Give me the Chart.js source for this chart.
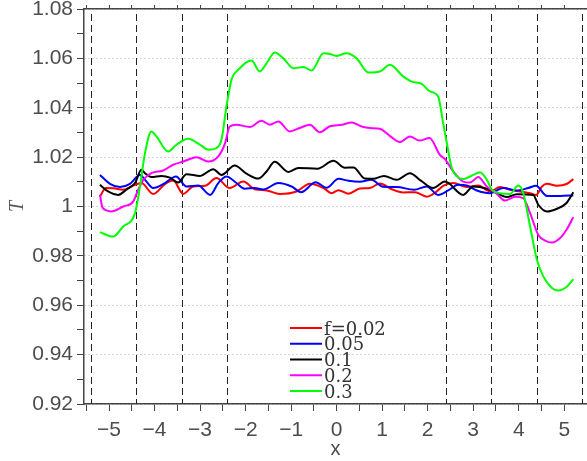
<!DOCTYPE html>
<html>
<head>
<meta charset="utf-8">
<script src="https://cdn.jsdelivr.net/npm/chart.js@4.4.1/dist/chart.umd.min.js"></script>
<style>
  html, body { margin: 0; padding: 0; background: #fff; }
  #wrap { width: 587px; height: 461px; position: relative; }
</style>
</head>
<body>
<div id="wrap"><canvas id="chart"></canvas></div>
<script>
const seriesLabels = ['f=0.02', '0.05', '0.1', '0.2', '0.3'];
const seriesColors = ['#ff0000', '#0000ff', '#000000', '#ff00ff', '#00ff00'];

// f = 0.02
const redX = [-5.2, -5.07, -4.9, -4.69, -4.47, -4.29, -4.03, -3.77, -3.59, -3.37, -3.15, -2.89, -2.64, -2.35, -2.05, -1.8, -1.54, -1.25, -0.88, -0.59, -0.29, -0.11, 0.04, 0.26, 0.51, 0.73, 0.95, 1.21, 1.46, 1.72, 1.98, 2.2, 2.34, 2.56, 2.86, 3.11, 3.37, 3.59, 3.81, 4.03, 4.25, 4.38, 4.51, 4.62, 4.84, 5.05, 5.2];
const redT = [1.0040, 1.0075, 1.0074, 1.0068, 1.0085, 1.0095, 1.0051, 1.0091, 1.0105, 1.0051, 1.0081, 1.0084, 1.0115, 1.0075, 1.0101, 1.0070, 1.0065, 1.0051, 1.0061, 1.0092, 1.0075, 1.0054, 1.0066, 1.0052, 1.0073, 1.0075, 1.0093, 1.0070, 1.0057, 1.0058, 1.0040, 1.0061, 1.0084, 1.0095, 1.0079, 1.0085, 1.0061, 1.0079, 1.0068, 1.0061, 1.0054, 1.0047, 1.0081, 1.0092, 1.0084, 1.0091, 1.0111];

// f = 0.05
const blueX = [-5.2, -4.98, -4.76, -4.54, -4.32, -4.21, -4.03, -3.77, -3.53, -3.3, -3.04, -2.78, -2.6, -2.42, -2.2, -2.02, -1.8, -1.61, -1.28, -0.99, -0.78, -0.46, -0.22, 0.04, 0.26, 0.51, 0.76, 1.02, 1.32, 1.7, 1.98, 2.23, 2.45, 2.67, 2.86, 3.08, 3.37, 3.66, 3.96, 4.21, 4.38, 4.62, 4.91, 5.2];
const blueT = [1.0128, 1.0092, 1.0079, 1.0092, 1.0128, 1.0108, 1.0075, 1.0095, 1.0122, 1.0081, 1.0085, 1.0047, 1.0095, 1.0122, 1.0095, 1.0072, 1.0075, 1.0069, 1.0095, 1.0081, 1.0058, 1.0098, 1.0076, 1.0112, 1.0104, 1.0100, 1.0108, 1.0080, 1.0079, 1.0068, 1.0081, 1.0047, 1.0065, 1.0088, 1.0085, 1.0065, 1.0054, 1.0075, 1.0065, 1.0075, 1.0084, 1.0043, 1.0043, 1.0045];

// f = 0.1
const blackX = [-5.2, -5.02, -4.8, -4.62, -4.43, -4.29, -4.21, -4.07, -3.85, -3.66, -3.48, -3.3, -3.0, -2.71, -2.53, -2.24, -1.98, -1.72, -1.54, -1.36, -1.06, -0.84, -0.42, -0.07, 0.18, 0.37, 0.62, 0.8, 1.04, 1.32, 1.61, 1.85, 2.12, 2.38, 2.78, 3.0, 3.3, 3.52, 3.74, 3.96, 4.32, 4.43, 4.62, 4.84, 5.05, 5.2];
const blackT = [1.0088, 1.0061, 1.0047, 1.0068, 1.0095, 1.0149, 1.0135, 1.0119, 1.0124, 1.0117, 1.0097, 1.0131, 1.0124, 1.0151, 1.0128, 1.0166, 1.0133, 1.0113, 1.0142, 1.0181, 1.0140, 1.0156, 1.0153, 1.0185, 1.0157, 1.0158, 1.0113, 1.0112, 1.0124, 1.0108, 1.0135, 1.0105, 1.0075, 1.0101, 1.0047, 1.0081, 1.0072, 1.0054, 1.0038, 1.0050, 1.0047, 1.0007, 0.9980, 0.9991, 1.0014, 1.0058];

// f = 0.2
const magentaX = [-5.2, -5.14, -4.95, -4.69, -4.47, -4.36, -4.25, -4.07, -3.81, -3.59, -3.37, -3.08, -2.82, -2.6, -2.45, -2.35, -2.2, -1.91, -1.65, -1.47, -1.28, -1.03, -0.81, -0.59, -0.37, -0.15, 0.11, 0.33, 0.55, 0.73, 0.95, 1.17, 1.39, 1.61, 1.82, 2.04, 2.27, 2.38, 2.56, 2.78, 2.93, 3.11, 3.3, 3.52, 3.7, 3.92, 4.1, 4.25, 4.43, 4.58, 4.73, 4.91, 5.05, 5.2];
const magentaT = [1.0047, 0.9994, 0.9980, 1.0000, 1.0020, 1.0068, 1.0108, 1.0135, 1.0146, 1.0169, 1.0182, 1.0200, 1.0182, 1.0203, 1.0257, 1.0324, 1.0331, 1.0322, 1.0347, 1.0331, 1.0344, 1.0304, 1.0318, 1.0331, 1.0301, 1.0325, 1.0331, 1.0340, 1.0324, 1.0318, 1.0315, 1.0286, 1.0261, 1.0284, 1.0267, 1.0277, 1.0209, 1.0192, 1.0142, 1.0101, 1.0097, 1.0119, 1.0081, 1.0051, 1.0024, 1.0040, 1.0034, 0.9973, 0.9885, 0.9862, 0.9854, 0.9872, 0.9906, 0.9957];

// f = 0.3
const greenX = [-5.2, -4.91, -4.69, -4.43, -4.32, -4.21, -4.07, -3.96, -3.7, -3.52, -3.26, -3.0, -2.82, -2.64, -2.53, -2.42, -2.31, -2.16, -1.87, -1.69, -1.54, -1.36, -1.17, -0.95, -0.73, -0.55, -0.29, -0.15, 0.0, 0.22, 0.44, 0.7, 0.95, 1.17, 1.46, 1.65, 1.87, 2.05, 2.23, 2.34, 2.42, 2.53, 2.64, 2.78, 3.0, 3.15, 3.3, 3.41, 3.59, 3.81, 3.99, 4.1, 4.25, 4.4, 4.54, 4.73, 4.87, 5.05, 5.2];
const greenT = [0.9896, 0.9878, 0.9919, 0.9973, 1.0081, 1.0216, 1.0304, 1.0284, 1.0223, 1.0250, 1.0274, 1.0250, 1.0230, 1.0237, 1.0270, 1.0405, 1.0513, 1.0554, 1.0591, 1.0547, 1.0580, 1.0624, 1.0600, 1.0560, 1.0565, 1.0551, 1.0621, 1.0618, 1.0610, 1.0621, 1.0600, 1.0543, 1.0547, 1.0574, 1.0527, 1.0506, 1.0497, 1.0466, 1.0446, 1.0338, 1.0257, 1.0156, 1.0122, 1.0111, 1.0128, 1.0139, 1.0108, 1.0068, 1.0054, 1.0051, 1.0085, 1.0054, 0.9919, 0.9784, 0.9717, 0.9670, 0.9660, 0.9674, 0.9706];

const dashedX = [-5.4, -4.4, -3.4, -2.4, 2.4, 3.4, 4.4, 5.4];
const xTickValues = [-5.5, -5, -4.5, -4, -3.5, -3, -2.5, -2, -1.5, -1, -0.5, 0, 0.5, 1, 1.5, 2, 2.5, 3, 3.5, 4, 4.5, 5, 5.5];

const xs = [redX, blueX, blackX, magentaX, greenX];
const ts = [redT, blueT, blackT, magentaT, greenT];

const axisColor = '#444';
const labelColor = '#4d4d4d';
const tickFont = { family: 'Liberation Sans', size: 21 };

const verticalLines = {
  id: 'verticalLines',
  beforeDatasetsDraw(chart) {
    const { ctx, chartArea, scales } = chart;
    ctx.save();
    ctx.strokeStyle = '#222';
    ctx.lineWidth = 1;
    ctx.setLineDash([7, 4]);
    dashedX.forEach(v => {
      const px = Math.round(scales.x.getPixelForValue(v)) + 0.5;
      ctx.beginPath();
      ctx.moveTo(px, chartArea.top + 5);
      ctx.lineTo(px, chartArea.bottom);
      ctx.stroke();
    });
    ctx.restore();
  }
};

const legendLines = {
  id: 'legendLines',
  afterDatasetsDraw(chart) {
    const { ctx } = chart;
    ctx.save();
    ctx.font = '18px "DejaVu Serif"';
    ctx.fillStyle = '#333';
    ctx.textBaseline = 'alphabetic';
    ctx.lineWidth = 2;
    seriesLabels.forEach((label, i) => {
      const y = 328 + i * 15.75;
      ctx.strokeStyle = seriesColors[i];
      ctx.beginPath();
      ctx.moveTo(290, y);
      ctx.lineTo(322, y);
      ctx.stroke();
      ctx.fillText(label, 324, y + 6.5);
    });
    ctx.restore();
  }
};

const isMajorY = v => Math.round(v * 100) % 2 === 0;

new Chart(document.getElementById('chart'), {
  type: 'line',
  data: {
    datasets: seriesLabels.map((label, i) => ({
      label: label,
      data: xs[i].map((x, j) => ({ x: x, y: ts[i][j] })),
      borderColor: seriesColors[i],
      borderWidth: 2,
      pointRadius: 0,
      fill: false,
      cubicInterpolationMode: 'monotone',
      order: seriesLabels.length - 1 - i
    }))
  },
  options: {
    responsive: true,
    maintainAspectRatio: false,
    animation: false,
    layout: { padding: 0 },
    plugins: {
      legend: { display: false },
      tooltip: { enabled: false }
    },
    scales: {
      x: {
        type: 'linear',
        position: 'bottom',
        min: -5.55,
        max: 5.5,
        bounds: 'data',
        afterBuildTicks: s => { s.ticks = xTickValues.map(v => ({ value: v })); },
        grid: { drawOnChartArea: false, tickLength: 7, tickColor: axisColor, tickWidth: 1 },
        border: { color: axisColor, width: 1.5 },
        ticks: {
          autoSkip: false,
          maxRotation: 0,
          padding: 7,
          font: tickFont,
          color: labelColor,
          callback: v => Number.isInteger(v) ? (v < 0 ? '\u2212' + Math.abs(v) : String(v)) : ''
        },
        title: { display: true, text: 'x', font: { family: 'Liberation Sans', size: 20 }, color: labelColor, padding: { top: 0, bottom: 0 } },
        afterFit: s => { s.height = 57; s.paddingLeft = 0; s.paddingRight = 0; }
      },
      xTop: {
        type: 'linear',
        position: 'top',
        min: -5.55,
        max: 5.5,
        bounds: 'data',
        afterBuildTicks: s => { s.ticks = xTickValues.map(v => ({ value: v })); },
        grid: { drawOnChartArea: false, tickLength: 4, tickColor: axisColor, tickWidth: 1 },
        border: { color: axisColor, width: 1.5 },
        ticks: { display: false, autoSkip: false },
        afterFit: s => { s.height = 9; s.paddingLeft = 0; s.paddingRight = 0; }
      },
      y: {
        type: 'linear',
        min: 0.92,
        max: 1.08,
        ticks: {
          stepSize: 0.01,
          autoSkip: false,
          padding: 4,
          font: tickFont,
          color: labelColor,
          callback: v => isMajorY(v) ? String(Number(v.toFixed(2))) : ''
        },
        grid: {
          color: c => (c.tick && isMajorY(c.tick.value)) ? '#aaa' : 'rgba(0,0,0,0)',
          lineWidth: 1,
          tickColor: axisColor,
          tickLength: 7,
          tickWidth: 1
        },
        border: { color: axisColor, width: 1.5, dash: [1, 3] },
        title: {
          display: true,
          text: 'T',
          font: { family: 'Liberation Serif', size: 20, style: 'italic' },
          color: '#555',
          padding: { top: 6, bottom: 0 }
        },
        afterFit: s => { s.width = 84; s.paddingTop = 0; s.paddingBottom = 0; }
      }
    }
  },
  plugins: [verticalLines, legendLines]
});
</script>
</body>
</html>
